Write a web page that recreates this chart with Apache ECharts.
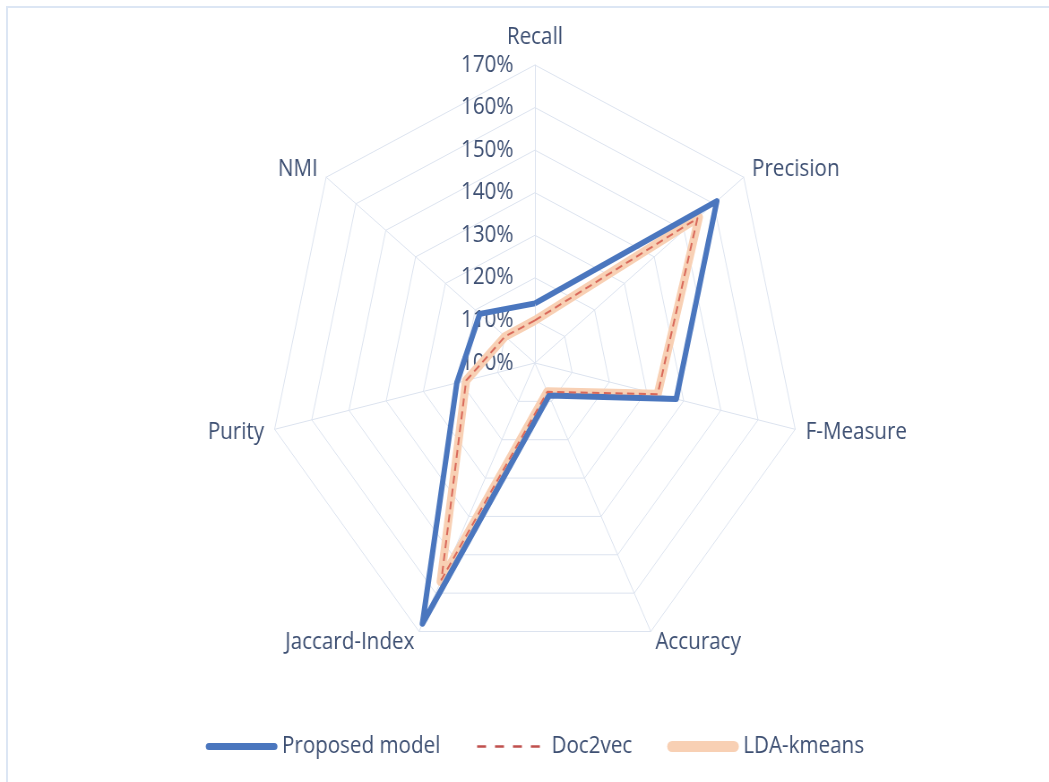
<!DOCTYPE html>
<html>
<head>
<meta charset="utf-8">
<script src="https://cdn.jsdelivr.net/npm/echarts@6/dist/echarts.min.js"></script>
<style>
  html, body { margin: 0; padding: 0; background: #fff; overflow: hidden; width: 1049px; height: 782px; }
  #frame { position: absolute; left: 6px; top: 6px; width: 1200px; height: 900px; border-left: 2px solid #DCE6F4; border-top: 2px solid #DCE6F4; }
  #chart { position: absolute; left: 0; top: 0; width: 1194px; height: 782px; transform: scaleX(0.896); transform-origin: 0 0; }
</style>
</head>
<body>
<div id="frame"></div>
<div id="chart"></div>
<script>
// Categories clockwise from the top
const categories = ['Recall', 'Precision', 'F-Measure', 'Accuracy', 'Jaccard-Index', 'Purity', 'NMI'];
const seriesNames = ['Proposed model', 'Doc2vec', 'LDA-kmeans'];
const proposedModel = [114, 161, 138, 108.5, 168, 121, 118.5];
const doc2vec = [110, 154.5, 133, 107.5, 156.5, 118.5, 110];
const ldaKmeans = [110, 155, 133, 107.5, 157, 118.5, 110];
const axisMin = 100;
const axisMax = 170;
const axisStep = 10;

// ECharts radar runs counter-clockwise; reorder so the picture runs clockwise
const order = [0].concat(categories.map((c, i) => i).slice(1).reverse());
const pick = arr => order.map(i => arr[i]);

const textColor = '#3D4F72';
const font = '"Open Sans", sans-serif';

const indicator = order.map((i, k) => {
  const ind = { name: categories[i], min: axisMin, max: axisMax };
  if (k === 0) {
    ind.axisLabel = { show: true };
    ind.nameTextStyle = { padding: [0, 0, 4, 0] };
  }
  return ind;
});

const chart = echarts.init(document.getElementById('chart'), null, { renderer: 'canvas' });
chart.setOption({
  backgroundColor: 'transparent',
  animation: false,
  textStyle: { fontFamily: font },
  legend: {
    bottom: 19,
    left: 'center',
    itemWidth: 80,
    itemHeight: 12,
    itemGap: 39,
    textStyle: { color: textColor, fontSize: 23, fontFamily: font },
    data: [
      { name: seriesNames[0], icon: 'path://M0,0M80,12M3.5,2.5H76.5A3.5,3.5,0,0,1,76.5,9.5H3.5A3.5,3.5,0,0,1,3.5,2.5Z', itemStyle: { color: '#4A76BE', borderWidth: 0 } },
      { name: seriesNames[1], icon: 'path://M0,0M80,12M2,4.8h10v2.4h-10zM22,4.8h10v2.4h-10zM42,4.8h10v2.4h-10zM62,4.8h10v2.4h-10z', itemStyle: { color: '#C0504D', borderWidth: 0 } },
      { name: seriesNames[2], icon: 'path://M0,0M80,12M5.5,0.5H74.5A5.5,5.5,0,0,1,74.5,11.5H5.5A5.5,5.5,0,0,1,5.5,0.5Z', itemStyle: { color: '#F8D0B4', borderWidth: 0 } }
    ]
  },
  radar: {
    center: ['50%', 363],
    radius: 298,
    startAngle: 90,
    splitNumber: (axisMax - axisMin) / axisStep,
    shape: 'polygon',
    indicator: indicator,
    nameGap: 12,
    axisName: { color: textColor, fontSize: 23, fontFamily: font, padding: [5, 0, 0, 0] },
    splitArea: { show: false },
    splitLine: { lineStyle: { color: '#DCE3EF', width: 1 } },
    axisLine: { lineStyle: { color: '#DCE3EF', width: 1 } },
    axisTick: { show: false },
    axisLabel: { show: false, color: textColor, fontSize: 23, fontFamily: font, margin: 24, formatter: '{value}%' }
  },
  series: [
    {
      name: seriesNames[2], type: 'radar', z: 2, symbol: 'none',
      itemStyle: { color: '#F8D0B4' },
      lineStyle: { color: '#F8D0B4', width: 9, join: 'round' },
      data: [{ name: seriesNames[2], value: pick(ldaKmeans) }]
    },
    {
      name: seriesNames[0], type: 'radar', z: 3, symbol: 'none',
      itemStyle: { color: '#4A76BE' },
      lineStyle: { color: '#4A76BE', width: 6, join: 'round' },
      data: [{ name: seriesNames[0], value: pick(proposedModel) }]
    },
    {
      name: seriesNames[1], type: 'radar', z: 4, symbol: 'none',
      itemStyle: { color: '#D9695A' },
      lineStyle: { color: '#D9695A', width: 2, type: [8, 5], join: 'round' },
      data: [{ name: seriesNames[1], value: pick(doc2vec) }]
    }
  ]
});
</script>
</body>
</html>
